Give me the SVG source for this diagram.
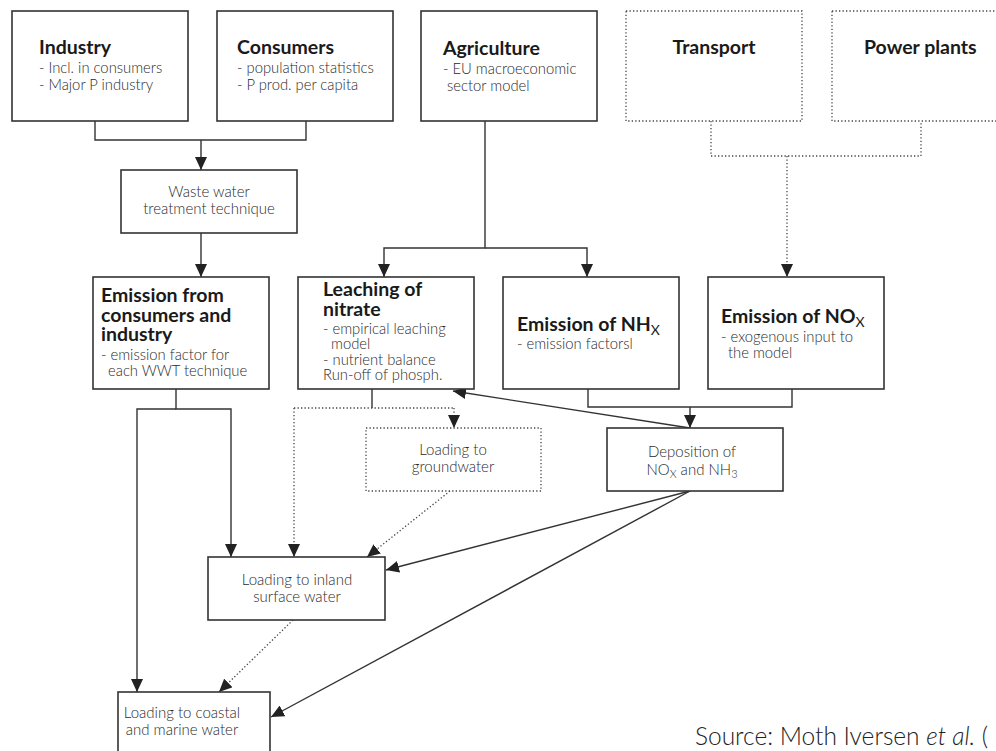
<svg xmlns="http://www.w3.org/2000/svg" width="996" height="751" viewBox="0 0 996 751">
<defs>
<marker id="ah" markerUnits="userSpaceOnUse" markerWidth="13" markerHeight="12" refX="13" refY="6" orient="auto">
<path d="M0,0 L13,6 L0,12 z" fill="#222"/>
</marker>
<style>
.box{fill:#fff;stroke:#333;stroke-width:1.6}
.dbox{fill:#fff;stroke:#444;stroke-width:1.3;stroke-dasharray:1.3 2.2}
.ln{fill:none;stroke:#333;stroke-width:1.4}
.dl{fill:none;stroke:#444;stroke-width:1.3;stroke-dasharray:1.3 2.2}
.t{font-family:Lato,"Liberation Sans",sans-serif;font-weight:bold;font-size:19.5px;fill:#1a1a1a}
.s{font-family:Lato,"Liberation Sans",sans-serif;font-weight:300;font-size:14.8px;fill:#2a2a2a}
.c{font-family:Lato,"Liberation Sans",sans-serif;font-weight:300;font-size:15px;fill:#2a2a2a;text-anchor:middle}
.src{font-family:Lato,"Liberation Sans",sans-serif;font-weight:300;font-size:24.5px;fill:#222}
</style>
</defs>
<rect width="996" height="751" fill="#fff"/>

<g id="connectors">
<path class="ln" d="M95,121 V140 H306 V121"/>
<path class="ln" d="M201,140 V170" marker-end="url(#ah)"/>
<path class="ln" d="M201,233 V277" marker-end="url(#ah)"/>
<path class="ln" d="M485,121 V248 H384 V277" marker-end="url(#ah)"/>
<path class="ln" d="M485,248 H587 V277" marker-end="url(#ah)"/>
<path class="dl" d="M711,121 V156 H921 V121"/>
<path class="dl" d="M787,156 V277" marker-end="url(#ah)"/>
<path class="ln" d="M588,389 V407 H792 V389"/>
<path class="ln" d="M690,407 V428" marker-end="url(#ah)"/>
<path class="ln" d="M690,428 L453,391" marker-end="url(#ah)"/>
<path class="ln" d="M372,389 V408"/>
<path class="dl" d="M294,408 H454"/>
<path class="dl" d="M454,408 V428" marker-end="url(#ah)"/>
<path class="dl" d="M294,408 V557" marker-end="url(#ah)"/>
<path class="dl" d="M450,491 L367,557" marker-end="url(#ah)"/>
<path class="ln" d="M176,389 V409 H231 V557" marker-end="url(#ah)"/>
<path class="ln" d="M176,409 H137 V692" marker-end="url(#ah)"/>
<path class="ln" d="M690,491 L386,570" marker-end="url(#ah)"/>
<path class="ln" d="M690,491 L271,717" marker-end="url(#ah)"/>
<path class="dl" d="M293,620 L219,692" marker-end="url(#ah)"/>
</g>

<g id="industry">
<rect class="box" x="12" y="11" width="176" height="110"/>
<text class="t" x="39" y="54">Industry</text>
<text class="s" x="39" y="73">- Incl. in consumers</text>
<text class="s" x="39" y="90">- Major P industry</text>
</g>

<g id="consumers">
<rect class="box" x="217" y="11" width="176" height="110"/>
<text class="t" x="237" y="54">Consumers</text>
<text class="s" x="237" y="73">- population statistics</text>
<text class="s" x="237" y="90">- P prod. per capita</text>
</g>

<g id="agriculture">
<rect class="box" x="421" y="11" width="176" height="110"/>
<text class="t" x="443" y="55">Agriculture</text>
<text class="s" x="443" y="74">- EU macroeconomic</text>
<text class="s" x="447" y="91">sector model</text>
</g>

<g id="transport">
<rect class="dbox" x="626" y="11" width="176" height="110"/>
<text class="t" x="714" y="54" text-anchor="middle">Transport</text>
</g>

<g id="power-plants">
<rect class="dbox" x="832" y="11" width="176" height="110"/>
<text class="t" x="864" y="54">Power plants</text>
</g>

<g id="waste-water">
<rect class="box" x="121" y="170" width="176" height="63"/>
<text class="c" x="209" y="197">Waste water</text>
<text class="c" x="209" y="214">treatment technique</text>
</g>

<g id="emission-consumers">
<rect class="box" x="93" y="277" width="176" height="112"/>
<text class="t" x="101" y="302">Emission from</text>
<text class="t" x="101" y="322">consumers and</text>
<text class="t" x="101" y="341">industry</text>
<text class="s" x="101" y="360">- emission factor for</text>
<text class="s" x="108" y="376">each WWT technique</text>
</g>

<g id="leaching">
<rect class="box" x="298" y="277" width="176" height="112"/>
<text class="t" x="323" y="296">Leaching of</text>
<text class="t" x="323" y="316">nitrate</text>
<text class="s" x="323" y="334">- empirical leaching</text>
<text class="s" x="331" y="349">model</text>
<text class="s" x="323" y="365">- nutrient balance</text>
<text class="s" x="323" y="380">Run-off of phosph.</text>
</g>

<g id="emission-nhx">
<rect class="box" x="503" y="277" width="176" height="112"/>
<text class="t" x="517" y="331">Emission of NH<tspan font-weight="normal" font-size="14" dy="4">X</tspan></text>
<text class="s" x="517" y="349">- emission factorsl</text>
</g>

<g id="emission-nox">
<rect class="box" x="708" y="277" width="176" height="112"/>
<text class="t" x="721" y="323">Emission of NO<tspan font-weight="normal" font-size="14" dy="4">X</tspan></text>
<text class="s" x="721" y="342">- exogenous input to</text>
<text class="s" x="728" y="358">the model</text>
</g>

<g id="deposition">
<rect class="box" x="607" y="428" width="176" height="63"/>
<text class="c" x="692" y="457">Deposition of</text>
<text class="c" x="692" y="475">NO<tspan font-size="11" dy="3">X</tspan><tspan dy="-3"> and NH</tspan><tspan font-size="11" dy="3">3</tspan></text>
</g>

<g id="groundwater">
<rect class="dbox" x="366" y="428" width="175" height="63"/>
<text class="c" x="453" y="455">Loading to</text>
<text class="c" x="453" y="472">groundwater</text>
</g>

<g id="inland">
<rect class="box" x="208" y="557" width="177" height="63"/>
<text class="c" x="297" y="585">Loading to inland</text>
<text class="c" x="297" y="602">surface water</text>
</g>

<g id="coastal">
<rect class="box" x="118" y="692" width="152" height="70"/>
<text class="c" x="182" y="718">Loading to coastal</text>
<text class="c" x="182" y="735">and marine water</text>
</g>

<text class="src" x="695" y="745">Source: Moth Iversen <tspan font-style="italic">et al.</tspan> (</text>
</svg>
